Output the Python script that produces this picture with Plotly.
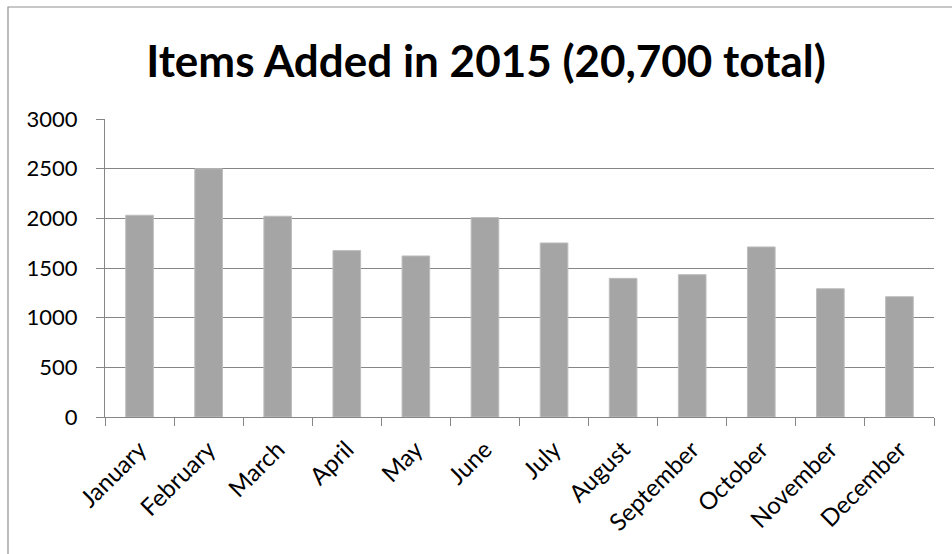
import plotly.graph_objects as go

months = ["January", "February", "March", "April", "May", "June", "July",
          "August", "September", "October", "November", "December"]
items_added = [2031, 2499, 2021, 1675, 1621, 2008, 1752, 1396, 1433, 1712, 1291, 1211]
y_ticks = [0, 500, 1000, 1500, 2000, 2500, 3000]
title_text = "Items Added in 2015 (20,700 total)"

W, H = 952, 554
ML, MR, MT, MB = 105, 18, 119, 137
plot_w = W - ML - MR
plot_h = H - MT - MB

fig = go.Figure(
    go.Bar(
        x=months,
        y=items_added,
        marker=dict(color="#a5a5a5", line=dict(color="#bdbdbd", width=1)),
        hoverinfo="x+y",
    )
)

# chart-area border (left and top edges sit inside the page)
bx0 = (8 - ML) / plot_w
by1 = (H - MB - 7) / plot_h
fig.add_shape(type="rect", xref="paper", yref="paper",
              x0=bx0, x1=1.3, y0=-1.0, y1=by1,
              line=dict(color="#8f8f8f", width=1.2), layer="below")

fig.update_layout(
    width=W, height=H,
    margin=dict(l=ML, r=MR, t=MT, b=MB, pad=0),
    paper_bgcolor="white", plot_bgcolor="white",
    bargap=0.6,
    showlegend=False,
    title=dict(text=title_text, x=(486 - ML) / plot_w, xref="paper", xanchor="center",
               y=1 - 62 / H, yanchor="middle",
               font=dict(family="Lato", size=44, color="black", weight="bold")),
    font=dict(family="Lato", color="black"),
)
fig.update_xaxes(
    tickangle=-45, tickson="boundaries", ticks="outside", ticklen=8,
    tickcolor="#868686", showline=True, linecolor="#868686", linewidth=1,
    tickfont=dict(size=24, family="Lato", color="black"), showgrid=False,
    ticklabelstandoff=8,
)
fig.update_yaxes(
    range=[0, 3000], tickvals=y_ticks, ticks="outside", ticklen=8,
    tickcolor="#868686", showline=True, linecolor="#868686", linewidth=1,
    gridcolor="#868686", gridwidth=1, zeroline=False,
    tickfont=dict(size=22, family="Lato", color="black"),
    ticklabelstandoff=14,
)

fig.write_html("out.html")
